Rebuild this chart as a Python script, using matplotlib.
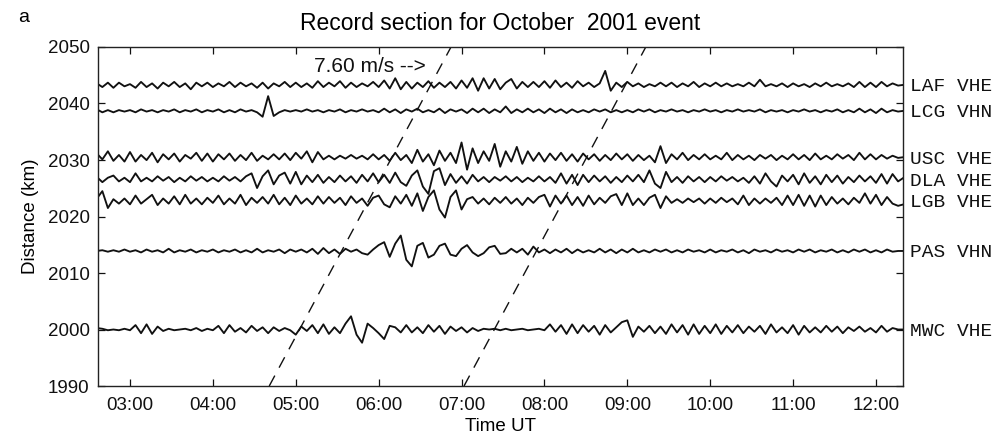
import numpy as np
import matplotlib
matplotlib.use("Agg")
import matplotlib.pyplot as plt
import matplotlib.transforms as mtransforms

# ---------------- data ----------------
title = "Record section for October  2001 event"
panel_letter = "a"
x_label = "Time UT"
y_label = "Distance (km)"

x_tick_hours = [3, 4, 5, 6, 7, 8, 9, 10, 11, 12]
x_tick_labels = ["03:00", "04:00", "05:00", "06:00", "07:00",
                 "08:00", "09:00", "10:00", "11:00", "12:00"]
y_ticks = [1990, 2000, 2010, 2020, 2030, 2040, 2050]

trace_start_hour = 2.6      # 02:36 UT
sample_step_min = 4.0
trace_gain = 1.3            # display gain applied to every trace

station_labels = ["LAF VHE", "LCG VHN", "USC VHE", "DLA VHE",
                  "LGB VHE", "PAS VHN", "MWC VHE"]
station_distance_km = [2043.3, 2038.7, 2030.5, 2026.6, 2022.8, 2013.9, 2000.0]

laf = [0.2, -0.3, 0.3, -0.4, 0.3, -0.2,
       0.1, -0.4, 0.4, -0.3, 0.2, -0.5, 0.3, -0.2, 0.4, -0.3, 0.2, -0.6, 0.3, -0.2, 0.3,
       -0.3, 0.2, -0.2, 0.4, -0.3, 0.3, -0.2, 0.2, -0.4, 0.3, -0.5, 0.2, -0.2, 0.4, -0.3,
       0.3, -0.3, 0.2, -0.4, 0.5, -0.3, 0.3, -0.2, 0.5, -0.4, 0.3, -0.3, 0.2, -0.2, 0.4,
       -0.3, 0.6, -0.5, 0.9, -0.6, 0.4, -0.5, 0.3, -0.3, 0.5, -0.4, 0.3, -0.3, 0.4, -0.5,
       0.6, -0.4, 0.9, -0.8, 0.9, -0.5, 0.8, -0.6, 0.3, 0.8, -0.5, 0.4, -0.3, 0.4, -0.3,
       0.5, -0.4, 0.6, -0.3, 0.3, -0.4, 0.5, -0.2, 0.3, -0.3, 0.2, 1.9, -0.8, 0.3, -0.3,
       0.4, -0.2, 0.2, -0.3, 0.1, -0.2, 0.3, -0.2, 0.3, -0.3, 0.2, -0.2, 0.4, -0.3, 0.2,
       -0.2, 0.3, -0.2, 0.2, -0.2, 0.1, -0.2, 0.3, -0.2, 0.7, -0.2, 0.1, -0.2, 0.2, -0.3,
       0.2, -0.2, 0.1, -0.3, 0.2, -0.2, 0.3, -0.2, 0.1, -0.2, 0.2, -0.3, 0.4, -0.3, 0.3,
       -0.3, 0.4, -0.2, 0.2, -0.1, 0.0]

lcg = [0.2, -0.2, 0.1, -0.2, 0.1, -0.1,
       0.1, -0.2, 0.2, -0.1, 0.1, -0.2, 0.1, -0.1, 0.2, -0.2, 0.1, -0.1, 0.2, -0.2, 0.1,
       -0.1, 0.2, -0.2, 0.1, -0.2, 0.2, -0.1, 0.1, -0.2, -0.8, 2.0, -0.7, -0.2, 0.1, -0.1,
       0.1, -0.1, 0.2, -0.1, 0.1, -0.2, 0.1, -0.1, 0.2, -0.2, 0.1, -0.1, 0.2, -0.1, 0.1,
       -0.2, 0.3, -0.2, 0.2, -0.3, 0.2, -0.1, 0.3, -0.2, 0.1, -0.2, 0.3, -0.3, 0.2, -0.1,
       0.2, -0.3, 0.3, -0.2, 0.3, -0.3, 0.2, -0.2, 0.6, -0.3, 0.2, -0.2, 0.3, -0.2, 0.2,
       -0.3, 0.3, -0.2, 0.2, -0.3, 0.2, -0.2, 0.1, -0.2, 0.2, -0.1, 0.2, -0.2, 0.1, -0.2,
       0.1, -0.2, 0.2, -0.1, 0.2, -0.2, 0.1, -0.1, 0.2, -0.1, 0.1, -0.2, 0.1, -0.1, 0.2,
       -0.1, 0.1, -0.2, 0.1, -0.1, 0.2, -0.1, 0.1, -0.1, 0.2, -0.2, 0.1, -0.1, 0.1, -0.2,
       0.1, -0.1, 0.2, -0.1, 0.1, -0.2, 0.1, -0.1, 0.2, -0.2, 0.1, -0.2, 0.3, -0.2, 0.2,
       -0.3, 0.3, -0.2, 0.1, -0.1, 0.0]

usc = [0.5, -0.3, 0.8, -0.5, 0.3, -0.6,
       0.7, -0.6, 0.3, -0.4, 0.6, -0.7, 0.4, -0.3, 0.5, -0.6, 0.3, -0.2, 0.6, -0.5, 0.5,
       -0.6, 0.4, -0.3, 0.5, -0.5, 0.3, -0.4, 0.6, -0.5, 0.2, -0.3, 0.4, -0.3, 0.5, -0.4,
       0.6, -0.2, 0.8, -0.7, 0.7, -0.3, 0.2, -0.3, 0.2, -0.2, 0.3, -0.2, 0.2, -0.3, 0.4,
       -0.3, 0.3, -0.5, 0.6, -0.4, 0.3, -0.8, 1.0, -0.6, 0.4, -1.1, 0.9, -0.5, 0.6, -0.8,
       2.0, -1.7, 1.2, -0.8, 0.8, -0.5, 1.8, -1.3, 0.8, -0.6, 1.4, -0.9, 0.8, -0.5, 0.6,
       -0.6, 0.5, -0.4, 0.6, -0.5, 0.4, -0.6, 0.5, -0.3, 0.4, -0.5, 0.3, -0.4, 0.5, -0.3,
       0.4, -0.5, 0.3, -0.4, 0.2, -0.7, 1.5, -0.8, 0.4, -0.3, 0.6, -0.4, 0.3, -0.3, 0.4,
       -0.3, 0.2, -0.3, 0.6, -0.4, 0.3, -0.3, 0.2, -0.4, 0.3, -0.2, 0.3, -0.4, 0.2, -0.3,
       0.4, -0.3, 0.3, -0.4, 0.5, -0.3, 0.2, -0.3, 0.4, -0.2, 0.3, -0.4, 0.6, -0.3, 0.4,
       -0.3, 0.3, -0.2, 0.2, -0.1, 0.0]

dla = [0.3, -0.4, 0.2, 0.5, -0.3, 0.2,
       -0.4, 0.8, -0.3, 0.2, -0.3, 0.4, -0.2, 0.3, -0.4, 0.2, -0.3, 0.4, -0.2, 0.3, -0.3,
       0.2, -0.3, 0.4, -0.2, 0.3, -0.3, 0.4, 0.8, -1.2, 0.4, 1.2, -0.7, 0.5, 0.9, -0.6,
       1.0, -0.7, 0.5, -0.4, 0.6, -0.5, 0.3, -0.4, 0.5, -0.3, 0.4, -0.5, 0.6, -0.3, 0.8,
       -0.4, 0.6, -0.5, 0.9, -0.4, -0.9, 0.5, 1.2, -1.0, -2.0, 1.1, 1.5, -0.8, 0.7, -0.5,
       0.4, -0.6, 0.6, -0.3, 0.3, -0.4, 0.3, -0.2, 0.4, -0.3, 0.3, -0.4, 0.2, -0.3, 0.4,
       -0.3, 0.3, -0.5, 0.8, -0.6, 0.6, -0.8, 0.6, -0.4, 0.5, -0.3, 0.4, -0.5, 0.3, -0.4,
       0.5, -0.3, 0.6, -0.4, 1.2, -0.6, -1.2, 1.0, -0.4, 0.3, -0.5, 0.4, -0.3, 0.3, -0.4,
       0.3, -0.3, 0.4, -0.2, 0.3, -0.3, 0.2, -0.5, 0.4, -0.6, 0.8, -0.3, -1.0, 0.5, -0.3,
       0.6, -0.7, 0.8, -0.5, 0.4, -0.7, 0.6, -0.4, 0.5, -0.6, 0.3, -0.4, 0.5, -0.3, 0.4,
       -0.5, 0.7, -0.6, 0.7, -0.3, 0.2]

lgb = [0.3, 1.3, -1.0, 0.2, -0.4, 0.3,
       -0.5, 0.7, -0.4, 0.2, 0.8, -0.6, 0.3, -0.4, 0.6, -0.5, 0.8, -0.4, 0.3, -0.5, 0.4,
       -0.3, 0.7, -0.5, 0.3, -0.4, 0.8, -0.6, 0.4, -0.3, 0.5, -0.4, 0.8, -0.5, 0.4, -0.6,
       0.7, -0.4, 0.3, -0.5, 0.6, -0.4, 0.5, -0.3, 0.4, -0.6, 0.6, -0.3, 0.3, -0.7, 0.4,
       0.7, -0.5, -0.9, 0.6, -0.4, 0.8, -0.7, 1.0, -1.4, 0.5, 1.4, -1.2, -2.3, 0.5, 1.4,
       -1.2, 0.2, 0.5, -0.4, 0.3, -0.5, 0.4, -0.3, 0.5, -0.4, 0.3, -0.6, 0.4, -0.3, 0.5,
       0.8, -0.8, 0.7, -0.4, 0.7, -0.6, 0.5, -0.7, 0.7, -0.5, 0.4, -0.3, 0.6, 0.9, -0.6,
       1.0, -0.6, 0.3, -0.6, 0.4, 0.8, -1.0, 0.6, -0.3, 0.2, -0.3, 0.3, -0.2, 0.3, -0.4,
       0.3, -0.3, 0.4, -0.2, 0.3, -0.5, 0.7, -0.6, 0.3, -0.4, 0.3, -0.3, 0.4, -0.6, 0.7,
       -0.6, 0.8, -0.7, 0.7, -0.8, 0.7, -0.6, 0.5, -0.4, 0.3, -0.5, 0.4, -0.3, 1.0, -0.4,
       0.8, -0.6, 0.5, -0.4, -0.7, -0.5]

pas = [0.0, 0.1, -0.1, 0.1, -0.1, 0.2,
       -0.1, 0.1, -0.2, 0.2, -0.1, 0.1, -0.2, 0.3, -0.2, 0.1, -0.1, 0.2, -0.2, 0.1, -0.1,
       0.2, -0.2, 0.1, -0.1, 0.2, -0.2, 0.1, -0.2, 0.3, -0.2, 0.1, -0.1, 0.2, -0.3, 0.2,
       -0.1, 0.2, -0.2, 0.3, -0.4, 0.4, -0.3, 0.2, -0.4, 0.3, -0.1, 0.2, -0.3, -0.5, 0.2,
       0.8, 1.2, -0.8, 1.0, 2.1, -1.2, -2.1, 0.7, 1.1, -0.9, -0.5, 0.7, 1.0, -0.5, -0.7,
       0.3, 0.8, -0.2, -0.7, -0.3, 0.5, 0.7, -0.4, -0.3, 0.3, -0.2, 0.3, -0.5, 0.6, -0.2,
       0.2, -0.3, 0.2, -0.2, 0.3, -0.3, 0.2, -0.2, 0.1, -0.2, 0.3, -0.2, 0.2, -0.3, 0.2,
       -0.2, 0.3, -0.2, 0.1, -0.2, 0.2, -0.1, 0.2, -0.2, 0.1, -0.2, 0.2, -0.1, 0.1, -0.2,
       0.2, -0.2, 0.1, -0.1, 0.2, -0.2, 0.1, -0.3, 0.2, -0.1, 0.1, -0.2, 0.2, -0.1, 0.1,
       -0.2, 0.2, -0.1, 0.2, -0.2, 0.1, -0.1, 0.2, -0.2, 0.1, -0.2, 0.2, -0.1, 0.2, -0.2,
       0.1, -0.2, 0.2, -0.1, 0.0, 0.0]

mwc = [0.2, 0.1, -0.1, 0.0, -0.1, 0.1,
       -0.1, 0.6, -0.5, 0.7, -0.6, 0.4, -0.2, 0.1, -0.1, 0.0, 0.1, -0.1, 0.2, -0.2, 0.1,
       -0.1, 0.5, -0.5, 0.6, -0.3, 0.2, -0.4, 0.5, -0.2, 0.3, -0.5, 0.3, -0.2, 0.2, -0.1,
       -0.7, 0.4, -0.2, 0.6, -0.5, 0.7, -0.6, 0.3, -0.5, 0.8, 1.8, -0.7, -1.8, 0.8, 0.2,
       -0.5, -1.3, 0.5, 0.3, -0.4, 0.6, -0.4, 0.3, -0.5, 0.6, -0.3, 0.5, -0.6, 0.4, -0.2,
       0.3, -0.4, 0.2, -0.2, 0.1, 0.0, 0.1, -0.1, 0.1, -0.1, 0.0, 0.1, -0.1, 0.0, 0.1,
       -0.1, 0.7, -0.3, 0.6, -0.6, 0.7, -0.5, 0.6, -0.3, 0.5, -0.7, 0.6, -0.4, 0.3, 1.0,
       1.25, -1.0, 0.4, -0.3, 0.5, -0.5, 0.4, -0.6, 0.7, -0.4, 0.6, -0.7, 0.7, -0.6, 0.5,
       -0.5, 0.7, -0.6, 0.5, -0.4, 0.6, -0.5, 0.4, -0.3, 0.5, -0.6, 0.7, -0.4, 0.3, -0.5,
       0.6, -0.7, 0.5, -0.4, 0.3, -0.4, 0.5, -0.3, 0.4, -0.5, 0.3, -0.2, 0.4, -0.3, 0.2,
       -0.4, 0.5, -0.3, 0.2, 0.0, 0.0]

trace_offsets_km = [laf, lcg, usc, dla, lgb, pas, mwc]

velocity_ms = 7.60
moveout_start_hours = [4.68, 7.03]   # where the moveout lines leave 1990 km
velocity_label = "7.60 m/s -->"
velocity_label_pos = (5.22, 2046.6)

# ---------------- figure ----------------
plt.rcParams["font.family"] = ["Liberation Sans", "DejaVu Sans"]
fig = plt.figure(figsize=(10.03, 4.38), dpi=100)
ax = fig.add_axes([0.0977, 0.1187, 0.8026, 0.774])

ink = "#111111"
for offs, base in zip(trace_offsets_km, station_distance_km):
    offs = np.asarray(offs, dtype=float)
    t = trace_start_hour + np.arange(len(offs)) * sample_step_min / 60.0
    ax.plot(t, base + trace_gain * offs, color=ink, lw=1.35,
            solid_joinstyle="round")

# moveout lines
v_kmh = velocity_ms * 3.6
ylo, yhi = y_ticks[0], y_ticks[-1]
for t0 in moveout_start_hours:
    t1 = t0 + (yhi - ylo) / v_kmh
    ax.plot([t0, t1], [ylo, yhi], color=ink, lw=1.0, dashes=(8.5, 6.5))

ax.text(velocity_label_pos[0], velocity_label_pos[1], velocity_label,
        fontsize=15, ha="left", va="center", color=ink)

# station labels
trans = mtransforms.blended_transform_factory(ax.transAxes, ax.transData)
for lab, base in zip(station_labels, station_distance_km):
    ax.text(1.009, base, lab, transform=trans, ha="left", va="center_baseline",
            fontsize=14, family=["Liberation Mono", "DejaVu Sans Mono"], color=ink)

ax.set_xlim(2.614, 12.326)
ax.set_ylim(ylo, yhi)
ax.set_xticks(x_tick_hours)
ax.set_xticklabels(x_tick_labels)
ax.set_yticks(y_ticks)
ax.tick_params(direction="in", length=5, width=0.9, top=True, right=True,
               labelsize=13.5, colors=ink)
ax.tick_params(axis="x", pad=8)
ax.tick_params(axis="y", pad=6)
for s in ax.spines.values():
    s.set_linewidth(1.0)
    s.set_color("#222222")

ax.set_xlabel(x_label, fontsize=13.5, labelpad=3)
ax.set_ylabel(y_label, fontsize=13.5, labelpad=6)
ax.set_title(title, fontsize=16.5, pad=12)
fig.text(0.018, 0.96, panel_letter, fontsize=14, ha="left", va="center")

fig.savefig("out.png", dpi=100)
